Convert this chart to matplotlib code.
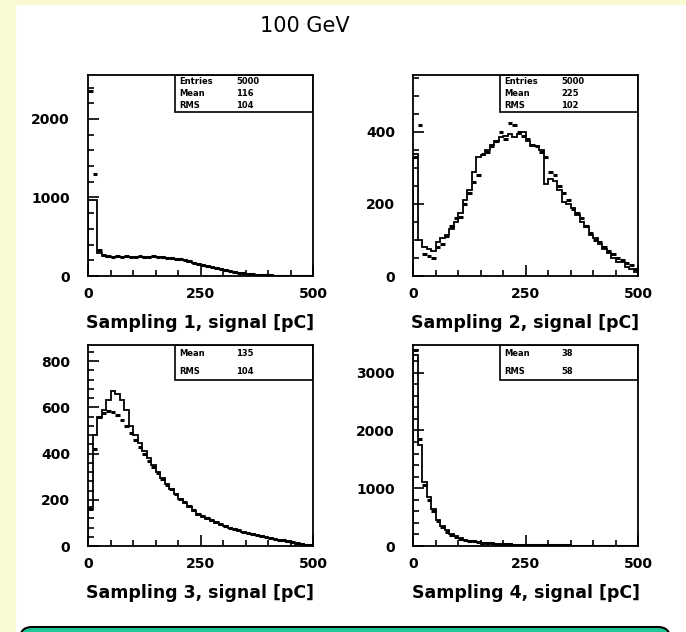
import numpy as np
import matplotlib
matplotlib.use("Agg")
import matplotlib.pyplot as plt
from matplotlib.patches import Rectangle, FancyBboxPatch
from matplotlib.ticker import MultipleLocator

plt.rcParams['font.family'] = ['DejaVu Sans']

title = "100 GeV"
xlabels = ["Sampling 1, signal [pC]", "Sampling 2, signal [pC]",
           "Sampling 3, signal [pC]", "Sampling 4, signal [pC]"]
edges = np.arange(0, 501, 10)

s1_hist = [970, 970, 290, 260, 245, 240, 245, 245, 245, 240, 240, 245, 245, 240, 245, 240, 238, 232, 225, 218,
           210, 198, 183, 168, 152, 138, 128, 115, 100, 88, 72, 58, 48, 38, 30, 24, 19, 15, 11, 9,
           7, 6, 5, 4, 3, 3, 2, 2, 1, 1]
s1_data = [2350, 1300, 330, 270, 250, 240, 250, 245, 250, 240, 245, 250, 245, 240, 250, 245, 240, 235, 230, 220,
           215, 200, 185, 170, 155, 140, 130, 120, 105, 90, 75, 60, 50, 40, 32, 26, 20, 16, 12, 10,
           8, 6, 5, 4, 3, 3, 2, 2, 1, 1]

s2_hist = [340, 100, 80, 75, 70, 95, 105, 115, 130, 150, 175, 210, 240, 290, 330, 335, 350, 365, 375, 385,
           390, 395, 385, 395, 400, 375, 360, 360, 350, 255, 270, 265, 240, 205, 200, 190, 170, 150, 135, 115,
           105, 90, 75, 65, 50, 40, 38, 25, 20, 10]
s2_data = [330, 420, 60, 55, 50, 80, 90, 110, 140, 160, 165, 200, 230, 260, 280, 340, 345, 360, 375, 400,
           380, 425, 420, 400, 390, 380, 365, 360, 345, 330, 290, 280, 250, 230, 210, 185, 175, 160, 140, 120,
           100, 95, 80, 70, 60, 50, 45, 35, 30, 20]

s3_hist = [170, 480, 560, 590, 630, 670, 660, 630, 590, 520, 480, 445, 410, 380, 350, 320, 295, 270, 245, 225,
           205, 185, 170, 150, 135, 125, 118, 110, 100, 92, 85, 78, 72, 66, 60, 55, 50, 46, 42, 38,
           34, 30, 26, 22, 18, 14, 10, 7, 5, 3]
s3_data = [160, 420, 560, 575, 585, 580, 565, 545, 520, 490, 460, 430, 400, 370, 340, 315, 290, 265, 245, 225,
           205, 190, 175, 155, 140, 130, 120, 112, 104, 96, 88, 80, 74, 68, 62, 57, 52, 48, 44, 40,
           36, 32, 28, 24, 20, 16, 12, 8, 6, 4]

s4_hist = [3300, 1750, 1100, 850, 640, 450, 350, 270, 200, 170, 130, 110, 95, 80, 70, 60, 52, 45, 40, 35,
           30, 27, 25, 22, 20, 18, 16, 15, 14, 13, 12, 11, 10, 9, 9, 8, 8, 7, 7, 6,
           6, 5, 5, 4, 4, 3, 3, 2, 2, 1]
s4_data = [3400, 1850, 1050, 800, 600, 430, 330, 250, 190, 160, 125, 105, 90, 78, 66, 58, 50, 44, 38, 34,
           30, 27, 24, 22, 20, 18, 16, 15, 14, 13, 12, 11, 10, 9, 9, 8, 8, 7, 7, 6,
           6, 5, 5, 4, 4, 3, 3, 2, 2, 1]

stats = [[("Entries", "5000"), ("Mean", "116"), ("RMS", "104")],
         [("Entries", "5000"), ("Mean", "225"), ("RMS", "102")],
         [("Mean", "135"), ("RMS", "104")],
         [("Mean", "38"), ("RMS", "58")]]

ymax = [2560, 558, 870, 3480]
ymajor = [1000, 200, 200, 1000]
yminor = [200, 50, 40, 200]
hists = [s1_hist, s2_hist, s3_hist, s4_hist]
datas = [s1_data, s2_data, s3_data, s4_data]

W, H = 686, 632
fig = plt.figure(figsize=(W / 100, H / 100), dpi=100)
fig.patch.set_facecolor("white")

# background strips
fig.patches.append(Rectangle((0, 0), 15 / W, 1, transform=fig.transFigure, color="#fafad2", zorder=0))
fig.patches.append(Rectangle((0, 1 - 4 / H), 1, 4 / H, transform=fig.transFigure, color="#fafad2", zorder=0))
fig.patches.append(FancyBboxPatch((20, -40), 650, 45, boxstyle="round,pad=0,rounding_size=12",
                                  transform=None, facecolor="#1ec89b", edgecolor="black", lw=1.5, zorder=1))

fig.text(305 / W, 1 - 26 / H, title, ha="center", va="center", fontsize=15)

lefts = [88, 413, 88, 413]
tops = [75, 75, 345, 345]
pw, ph = 225, 201
centers = (edges[:-1] + edges[1:]) / 2

for i in range(4):
    ax = fig.add_axes([lefts[i] / W, 1 - (tops[i] + ph) / H, pw / W, ph / H])
    ax.stairs(hists[i], edges, color="black", lw=1.3)
    ax.errorbar(centers, datas[i], xerr=5, fmt="none", ecolor="black", elinewidth=2.2, capsize=0)
    ax.set_xlim(0, 500)
    ax.set_ylim(0, ymax[i])
    ax.xaxis.set_major_locator(MultipleLocator(250))
    ax.xaxis.set_minor_locator(MultipleLocator(50))
    ax.yaxis.set_major_locator(MultipleLocator(ymajor[i]))
    ax.yaxis.set_minor_locator(MultipleLocator(yminor[i]))
    ax.tick_params(which="both", direction="in", top=False, right=False, width=1.2)
    ax.tick_params(which="major", length=8, labelsize=10)
    ax.tick_params(axis="x", which="major", pad=8)
    ax.tick_params(axis="y", which="major", pad=13)
    ax.tick_params(which="minor", length=4)
    for lab in ax.get_xticklabels() + ax.get_yticklabels():
        lab.set_fontweight("bold")
    for sp in ax.spines.values():
        sp.set_linewidth(1.3)
    ax.text(0.5, -0.235, xlabels[i], transform=ax.transAxes, ha="center", va="center",
            fontsize=12.5, fontweight="bold")
    # stats box
    nrows = len(stats[i])
    bh = 37 / ph if nrows == 3 else 35 / ph
    ax.add_patch(Rectangle((0.387, 1 - bh), 0.613, bh, transform=ax.transAxes, fill=False,
                           lw=1.2, edgecolor="black", zorder=5))
    for r, (k, v) in enumerate(stats[i]):
        yy = 1 - bh * (r + 0.5) / nrows
        ax.text(0.405, yy, k, transform=ax.transAxes, fontsize=6, fontweight="bold", va="center")
        ax.text(0.66, yy, v, transform=ax.transAxes, fontsize=6, fontweight="bold", va="center")

fig.savefig("out.png", dpi=100, facecolor=fig.get_facecolor())
